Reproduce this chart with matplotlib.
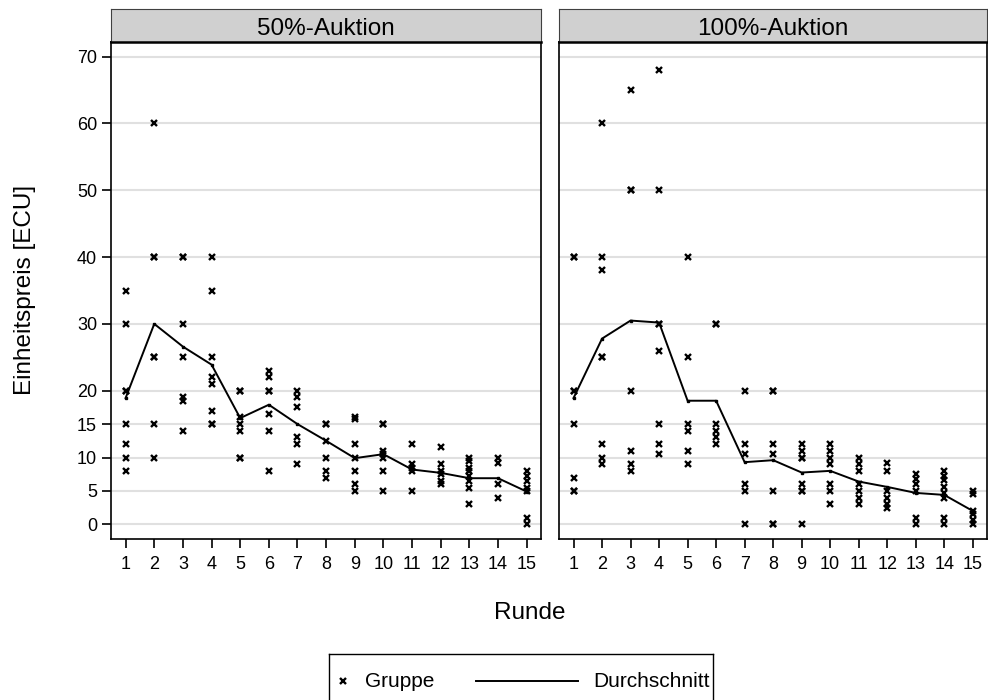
import matplotlib
matplotlib.use("Agg")
import matplotlib.pyplot as plt

plt.rcParams['font.family'] = ['Liberation Sans', 'DejaVu Sans']

runden = list(range(1, 16))
panel_titles = ["50%-Auktion", "100%-Auktion"]
y_ticks = [0, 5, 10, 15, 20, 30, 40, 50, 60, 70]

gruppe_50 = [
    [35, 30, 20, 20, 15, 12, 10, 8],
    [60, 40, 40, 25, 25, 15, 10],
    [40, 40, 30, 25, 19, 18.5, 14],
    [40, 35, 25, 22, 21, 17, 15, 15],
    [20, 20, 16, 15, 14, 10, 10],
    [23, 22, 20, 20, 16.5, 14, 8],
    [20, 19, 17.5, 13, 12, 9],
    [15, 15, 12.5, 10, 8, 7],
    [16, 15.7, 12, 10, 8, 6, 5],
    [15, 15, 11, 10.5, 10, 8, 5],
    [12, 9, 8.5, 8, 5],
    [11.5, 9, 8, 7.5, 6.5, 6],
    [10, 9.5, 8.5, 8, 7.2, 6.5, 5.5, 3],
    [10, 9.2, 6, 4],
    [8, 7.2, 6.5, 5.5, 5, 1, 0],
]
avg_50 = [18.9, 30.0, 26.6, 23.9, 15.9, 17.9, 15.0, 12.5, 9.9, 10.5, 8.2, 7.7, 6.9, 6.9, 4.9]

gruppe_100 = [
    [40, 40, 20, 20, 15, 7, 5, 5],
    [60, 40, 38, 25, 25, 12, 10, 9],
    [65, 50, 50, 20, 11, 9, 8],
    [68, 50, 30, 30, 26, 15, 12, 10.5],
    [40, 25, 15, 14, 11, 9],
    [30, 30, 15, 14, 13, 12],
    [20, 12, 10.5, 6, 5, 0],
    [20, 20, 12, 10.5, 5, 0, 0],
    [12, 11, 10, 10, 6, 5, 5, 0],
    [12, 11, 10, 9, 6, 5, 3],
    [10, 9, 8, 6, 5, 4, 3],
    [9.2, 8, 5, 4, 3, 2.5],
    [7.6, 6.8, 6, 5, 1, 0],
    [8, 7.3, 6.6, 5.6, 4.7, 4, 1, 0],
    [5, 4.5, 2, 1.5, 0.7, 0],
]
avg_100 = [18.9, 27.8, 30.5, 30.2, 18.5, 18.5, 9.3, 9.6, 7.75, 8.0, 6.4, 5.6, 4.7, 4.4, 2.0]

W, H = 988, 700
fig = plt.figure(figsize=(W / 100, H / 100), dpi=100)

def fx(px):
    return px / W

def fy(py):
    return 1 - py / H

panels = [(111, 541), (559, 987)]
top, bottom, strip_top = 42, 539, 9
data = [(gruppe_50, avg_50), (gruppe_100, avg_100)]

for i, ((x0, x1), (grp, avg), title) in enumerate(zip(panels, data, panel_titles)):
    ax = fig.add_axes([fx(x0), fy(bottom), fx(x1 - x0), (bottom - top) / H])
    xs, ys = [], []
    for r, vals in zip(runden, grp):
        xs += [r] * len(vals)
        ys += vals
    ax.plot(xs, ys, linestyle='none', marker='x', color='black',
            markersize=5, markeredgewidth=1.7, zorder=3)
    ax.plot(runden, avg, color='black', linewidth=1.4, marker='s',
            markersize=1.5, zorder=4)
    ax.set_xlim(0.49, 15.5)
    ax.set_ylim(-2.2, 72.2)
    ax.set_yticks(y_ticks)
    ax.set_xticks(runden)
    ax.set_xticklabels([str(r) for r in runden])
    ax.grid(axis='y', color='#e0e0e0', linewidth=1.5, zorder=0)
    ax.set_axisbelow(True)
    for s in ax.spines.values():
        s.set_linewidth(1.2)
        s.set_color('black')
    ax.tick_params(axis='x', direction='out', length=6.5, width=1.2,
                   labelsize=13, pad=6)
    if i == 0:
        ax.tick_params(axis='y', direction='out', length=6.5, width=1.2,
                       labelsize=13, pad=3.5)
        ax.set_yticklabels([str(t) for t in y_ticks])
    else:
        ax.tick_params(axis='y', left=False, labelleft=False)

    sax = fig.add_axes([fx(x0), fy(top), fx(x1 - x0), (top - strip_top) / H])
    sax.set_facecolor('#d0d0d0')
    sax.set_xticks([])
    sax.set_yticks([])
    for k, s in sax.spines.items():
        s.set_color('#404040')
        s.set_linewidth(0.8)
    sax.spines['bottom'].set_color('black')
    sax.spines['bottom'].set_linewidth(1.8)
    sax.text(0.5, 0.4, title, transform=sax.transAxes, ha='center',
             va='center', fontsize=17.5)

fig.text(fx(530), fy(613), "Runde", ha='center', va='center', fontsize=17.5)
fig.text(fx(25), fy(290), "Einheitspreis [ECU]", ha='center', va='center',
         rotation=90, fontsize=17.5)

# legend box
lx0, lx1, ly0, ly1 = 329, 713, 654, 703
lax = fig.add_axes([fx(lx0), fy(ly1), fx(lx1 - lx0), (ly1 - ly0) / H])
lax.set_xlim(lx0, lx1)
lax.set_ylim(ly1, ly0)
lax.set_xticks([])
lax.set_yticks([])
for s in lax.spines.values():
    s.set_linewidth(1.0)
    s.set_color('black')
lax.plot([343], [681], linestyle='none', marker='x', color='black',
         markersize=5, markeredgewidth=1.7)
lax.text(365, 682, "Gruppe", ha='left', va='center', fontsize=15)
lax.plot([476, 578], [681, 681], color='black', linewidth=1.4)
lax.text(593, 682, "Durchschnitt", ha='left', va='center', fontsize=15)

fig.savefig("out.png", dpi=100)
